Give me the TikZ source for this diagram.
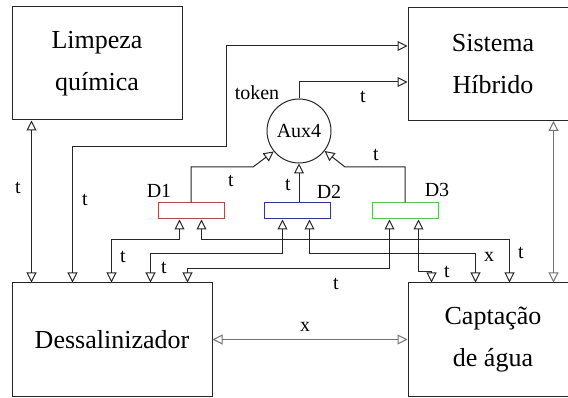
\documentclass[tikz,border=0pt]{standalone}
\usepackage{fontspec}
\setmainfont{LiberationSerif}[Extension=.ttf, UprightFont=*-Regular, BoldFont=*-Bold,
  ItalicFont=*-Italic, BoldItalicFont=*-BoldItalic]
\usetikzlibrary{arrows.meta,calc}
\definecolor{linegray}{gray}{0.15}
\definecolor{softgray}{gray}{0.45}
\definecolor{d1red}{RGB}{255, 40, 40}
\definecolor{d2blue}{RGB}{40, 40, 255}
\definecolor{d3green}{RGB}{30, 235, 30}

\begin{document}
\begin{tikzpicture}[x=1pt, y=-1pt,
    block/.style={draw=linegray, line width=1pt, minimum width=170pt, minimum height=113pt,
      inner sep=0pt, align=center, font=\rmfamily\fontsize{26}{42}\selectfont},
    devbox/.style={draw, line width=1pt, minimum width=66pt, minimum height=16pt, inner sep=0pt},
    lbl/.style={font=\rmfamily\fontsize{20}{24}\selectfont, inner sep=0pt},
    wire/.style={draw=linegray, line width=1pt},
    onearrow/.style={wire, -{Triangle[open, length=10pt, width=10pt]}},
    twoarrow/.style={wire, {Triangle[open, length=10pt, width=10pt]}-{Triangle[open, length=10pt, width=10pt]}},
  ]
  \useasboundingbox (0,0) rectangle (568,398);

  % Main blocks
  \node[block] (limpeza) at (97,63.5) {Limpeza\\química};
  \node[block] (sistema) at (493,64) {Sistema\\Híbrido};
  \node[block, minimum width=200pt] (dessal) at (112,339.5) {Dessalinizador};
  \node[block] (captacao) at (493,339.5) {Captação\\de água};

  % Aux4 and the three D blocks
  \node[draw=linegray, line width=1pt, circle, minimum size=64pt, lbl] (aux4) at (299,131) {Aux4};
  \node[devbox, draw=d1red] (d1) at (191,211) {};
  \node[devbox, draw=d2blue] (d2) at (297,211) {};
  \node[devbox, draw=d3green] (d3) at (405,211) {};
  \node[lbl] (d1lbl) at (159,191) {D1};
  \node[lbl] (d2lbl) at (329,192) {D2};
  \node[lbl] (d3lbl) at (437,190) {D3};

  % Ports
  \coordinate (lq) at ($(limpeza.south west)+(20,0)$);
  \coordinate (sh) at ($(sistema.south west)+(146,0)$);
  \coordinate (ds1) at ($(dessal.north west)+(20,0)$);
  \coordinate (ds2) at ($(dessal.north west)+(61,0)$);
  \coordinate (ds3) at ($(dessal.north west)+(100,0)$);
  \coordinate (ds4) at ($(dessal.north west)+(139,0)$);
  \coordinate (ds5) at ($(dessal.north west)+(176,0)$);
  \coordinate (cp1) at ($(captacao.north west)+(24,0)$);
  \coordinate (cp2) at ($(captacao.north west)+(68,0)$);
  \coordinate (cp3) at ($(captacao.north west)+(102,0)$);
  \coordinate (cp4) at ($(captacao.north west)+(146,0)$);
  \coordinate (d1a) at ($(d1.south west)+(22,0)$);
  \coordinate (d1b) at ($(d1.south west)+(44,0)$);
  \coordinate (d2a) at ($(d2.south west)+(19,0)$);
  \coordinate (d2b) at ($(d2.south west)+(46,0)$);
  \coordinate (d3a) at ($(d3.south west)+(18,0)$);
  \coordinate (d3b) at ($(d3.south west)+(47,0)$);

  % Links between the blocks
  \draw[twoarrow] (lq) -- (ds1);
  \draw[twoarrow] (ds2) |- (226,147) |- ($(sistema.north west)+(0,39)$);
  \draw[twoarrow, draw=softgray] (sh) -- (cp4);
  \draw[twoarrow, draw=softgray] (dessal.east) -- (captacao.west);
  \draw[onearrow] (aux4.north) |- ($(sistema.north west)+(0,75)$);

  % D blocks into Aux4
  \draw[onearrow] (d1.north) |- (253,167) -- (aux4.219);
  \draw[onearrow] (aux4.south |- d2.north) -- (aux4.south);
  \draw[onearrow] (d3.north) |- (345,167) -- (aux4.322);

  % D blocks to the lower blocks
  \draw[twoarrow] (ds3) |- ($(d1a)+(0,20)$) -- (d1a);
  \draw[twoarrow] (d1b) -- ++(0,20) -| (cp3);
  \draw[twoarrow] (d2a) -- ++(0,34) -| (ds4);
  \draw[twoarrow] (d2b) -- ++(0,34) -| (cp2);
  \draw[twoarrow] (d3a) -- ++(0,49) -| (ds5);
  \draw[twoarrow] (d3b) -- ++(0,52) -| (cp1);

  % Labels
  \node[lbl] (tlq) at (18,188) {t};
  \node[lbl] (tsh) at (85,200) {t};
  \node[lbl] (token) at (257,93) {token};
  \node[lbl] (taux) at (363,97) {t};
  \node[lbl] (td1) at (231,181) {t};
  \node[lbl] (td2) at (288,185) {t};
  \node[lbl] (td3) at (376,155) {t};
  \node[lbl] (tds3) at (123,257) {t};
  \node[lbl] (tds4) at (164,268) {t};
  \node[lbl] (tds5) at (336,284) {t};
  \node[lbl] (tcp1) at (447,272) {t};
  \node[lbl] (xcp2) at (489,257) {x};
  \node[lbl] (tcp3) at (521,253) {t};
  \node[lbl] (xmid) at (305,327) {x};
\end{tikzpicture}
\end{document}
